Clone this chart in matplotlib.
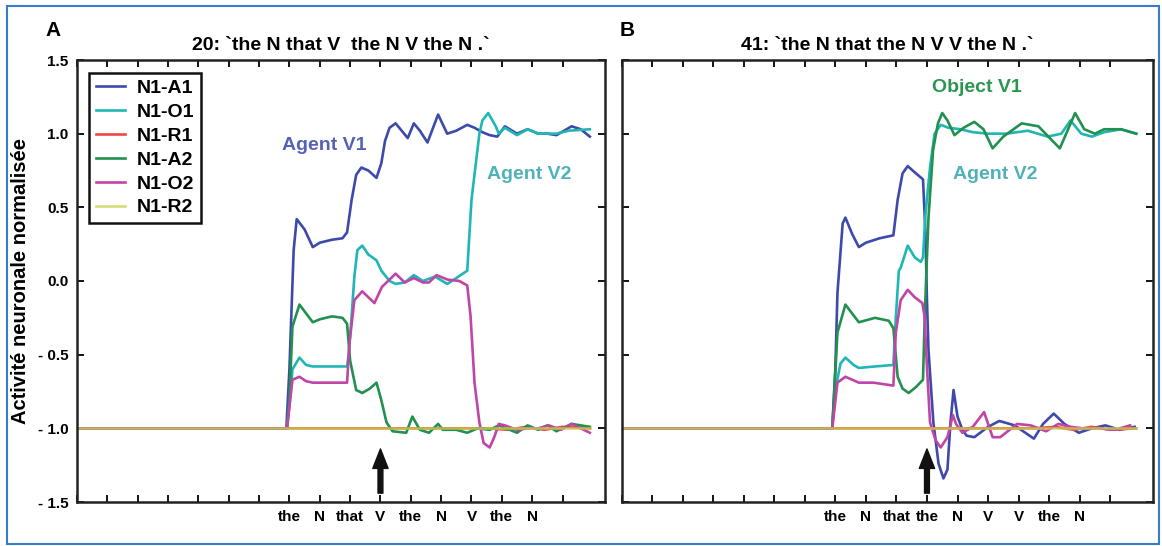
import matplotlib
matplotlib.use("Agg")
import matplotlib.pyplot as plt
from matplotlib.patches import Rectangle

plt.rcParams['font.family'] = ['Liberation Sans', 'DejaVu Sans']
plt.rcParams['font.weight'] = 'bold'

# ---- data (x in word slots, y = normalised activity) ----
series_names = ['N1-A1', 'N1-O1', 'N1-R1', 'N1-A2', 'N1-O2', 'N1-R2']
colors = ['#3d4aab', '#1fb6b4', '#ee4848', '#22904e', '#bf45a6', '#c6d34c']

words_a = ['the', 'N', 'that', 'V', 'the', 'N', 'V', 'the', 'N']
words_b = ['the', 'N', 'that', 'the', 'N', 'V', 'V', 'the', 'N']
word_ticks = [7, 8, 9, 10, 11, 12, 13, 14, 15]

# panel A : 20 `the N that V the N V the N .`
a_A1_x = [0, 6.9, 7.0, 7.14, 7.24, 7.5, 7.77, 8.0, 8.4, 8.75, 8.9, 9.05, 9.2, 9.37, 9.6, 9.87, 10.03,
          10.15, 10.3, 10.5, 10.7, 10.9, 11.1, 11.3, 11.55, 11.9, 12.2, 12.5, 12.86, 13.1, 13.36, 13.6,
          13.85, 14.1, 14.5, 14.85, 15.2, 15.5, 15.8, 16.3, 16.6, 16.9]
a_A1_y = [-1, -1, -0.6, 0.21, 0.42, 0.35, 0.23, 0.26, 0.28, 0.29, 0.33, 0.55, 0.72, 0.77, 0.75, 0.70, 0.80,
          0.95, 1.04, 1.07, 1.02, 0.97, 1.07, 1.02, 0.94, 1.13, 1.0, 1.02, 1.06, 1.04, 1.01, 0.99,
          0.98, 1.05, 1.0, 1.03, 1.0, 1.0, 0.99, 1.05, 1.03, 0.98]
a_O1_x = [0, 6.92, 7.0, 7.1, 7.33, 7.55, 7.77, 8.3, 8.9, 8.95, 9.05, 9.14, 9.24, 9.4, 9.6, 9.87, 10.03,
          10.3, 10.5, 10.8, 11.1, 11.4, 11.8, 12.2, 12.5, 12.86, 13.0, 13.26, 13.36, 13.55, 13.8, 13.9,
          14.1, 14.5, 14.85, 15.2, 15.8, 16.2, 16.9]
a_O1_y = [-1, -1, -0.85, -0.6, -0.52, -0.57, -0.58, -0.58, -0.58, -0.5, -0.24, 0.03, 0.21, 0.24, 0.18,
          0.14, 0.07, 0.0, -0.02, -0.01, 0.04, 0.0, 0.03, -0.02, 0.02, 0.07, 0.55, 1.0, 1.09, 1.14, 1.05,
          1.0, 1.04, 0.99, 1.03, 1.0, 1.0, 1.02, 1.03]
a_R1_x = [0, 13.5, 14.2, 14.8, 15.4, 16.0, 16.9]
a_R1_y = [-1, -1, -1.01, -0.99, -1.01, -0.99, -1.0]
a_A2_x = [0, 6.92, 7.0, 7.1, 7.33, 7.55, 7.77, 8.0, 8.4, 8.75, 8.9, 9.0, 9.2, 9.4, 9.65, 9.87, 10.03,
          10.2, 10.4, 10.85, 11.05, 11.3, 11.6, 11.9, 12.05, 12.5, 12.86, 13.2, 13.6, 13.9, 14.5, 14.85,
          15.2, 15.5, 15.8, 16.3, 16.9]
a_A2_y = [-1, -1, -0.8, -0.31, -0.16, -0.22, -0.28, -0.26, -0.24, -0.25, -0.29, -0.54, -0.74, -0.76,
          -0.73, -0.69, -0.81, -0.96, -1.02, -1.03, -0.92, -1.01, -1.03, -0.97, -1.01, -1.01, -1.03, -1.0,
          -1.01, -0.98, -1.03, -0.98, -1.01, -0.98, -1.02, -0.97, -0.99]
a_O2_x = [0, 6.92, 7.1, 7.33, 7.55, 7.77, 8.3, 8.9, 8.98, 9.14, 9.4, 9.6, 9.8, 10.05, 10.5, 10.8, 11.1,
          11.4, 11.6, 11.85, 12.2, 12.6, 12.86, 12.97, 13.1, 13.26, 13.4, 13.6, 13.75, 13.9, 14.1, 14.5,
          14.85, 15.2, 15.55, 15.95, 16.3, 16.9]
a_O2_y = [-1, -1, -0.67, -0.65, -0.68, -0.69, -0.69, -0.69, -0.42, -0.13, -0.07, -0.11, -0.15, -0.04,
          0.05, -0.01, 0.02, -0.01, -0.01, 0.04, 0.01, 0.0, -0.03, -0.24, -0.69, -0.96, -1.1, -1.13, -1.06,
          -0.97, -0.98, -1.01, -1.0, -1.0, -0.98, -1.01, -0.97, -1.03]
a_R2_x = [0, 16.9]
a_R2_y = [-1, -1]

# panel B : 41 `the N that the N V V the N .`
b_A1_x = [0, 6.9, 7.0, 7.07, 7.24, 7.33, 7.55, 7.77, 8.0, 8.45, 8.9, 9.04, 9.2, 9.37, 9.64, 9.87, 9.95,
          10.0, 10.05, 10.21, 10.38, 10.54, 10.67, 10.77, 10.87, 11.0, 11.16, 11.3, 11.55, 12.0, 12.37,
          12.87, 13.5, 13.8, 14.15, 14.5, 14.97, 15.4, 15.84, 16.3, 16.8]
b_A1_y = [-1, -1, -0.6, -0.08, 0.39, 0.43, 0.32, 0.23, 0.26, 0.29, 0.31, 0.55, 0.73, 0.78, 0.73, 0.69,
          0.33, -0.13, -0.47, -0.96, -1.24, -1.34, -1.28, -0.96, -0.74, -0.92, -1.01, -1.05, -1.06, -0.99,
          -0.95, -0.98, -1.07, -0.97, -0.90, -0.97, -1.03, -1.0, -0.98, -1.01, -0.99]
b_O1_x = [0, 6.9, 7.0, 7.17, 7.33, 7.6, 7.77, 8.3, 8.9, 8.98, 9.08, 9.14, 9.37, 9.6, 9.8, 9.87, 9.95,
          10.1, 10.25, 10.45, 10.7, 11.1, 11.5, 12.0, 12.6, 13.3, 13.95, 14.4, 14.7, 15.05, 15.4, 15.8,
          16.35, 16.85]
b_O1_y = [-1, -1, -0.74, -0.56, -0.52, -0.57, -0.59, -0.58, -0.57, -0.25, 0.07, 0.09, 0.24, 0.16, 0.13,
          0.16, 0.45, 0.77, 1.0, 1.06, 1.04, 1.03, 1.01, 1.0, 1.0, 1.02, 0.98, 1.0, 1.09, 1.0, 0.98, 1.01,
          1.03, 1.0]
b_R1_x = [0, 13.5, 14.2, 14.8, 15.4, 16.0, 16.85]
b_R1_y = [-1, -1, -0.99, -1.01, -0.99, -1.01, -1.0]
b_A2_x = [0, 6.9, 7.07, 7.33, 7.55, 7.77, 8.3, 8.75, 8.9, 9.04, 9.2, 9.4, 9.64, 9.87, 9.92, 9.97, 10.05,
          10.2, 10.36, 10.5, 10.67, 10.9, 11.2, 11.55, 11.85, 12.15, 12.5, 13.1, 13.65, 14.35, 14.85,
          15.15, 15.5, 15.8, 16.35, 16.85]
b_A2_y = [-1, -1, -0.35, -0.16, -0.22, -0.28, -0.25, -0.27, -0.32, -0.65, -0.73, -0.76, -0.72, -0.67,
          -0.3, 0.0, 0.43, 0.89, 1.07, 1.14, 1.09, 0.99, 1.04, 1.08, 1.03, 0.90, 0.98, 1.07, 1.05, 0.90,
          1.14, 1.03, 1.0, 1.03, 1.03, 1.0]
b_O2_x = [0, 6.9, 7.07, 7.33, 7.55, 7.77, 8.25, 8.9, 8.98, 9.14, 9.37, 9.6, 9.85, 9.92, 10.0, 10.1,
          10.28, 10.45, 10.67, 10.85, 10.95, 11.16, 11.5, 11.87, 12.15, 12.4, 12.95, 13.4, 13.9, 14.3,
          14.7, 15.1, 15.6, 16.15, 16.65]
b_O2_y = [-1, -1, -0.69, -0.65, -0.67, -0.69, -0.69, -0.71, -0.35, -0.13, -0.06, -0.11, -0.15, -0.24,
          -0.58, -0.96, -1.08, -1.13, -1.06, -0.91, -0.97, -1.03, -0.99, -0.89, -1.06, -1.06, -0.97, -0.98,
          -1.02, -0.97, -0.99, -1.0, -1.0, -1.01, -0.98]
b_R2_x = [0, 16.85]
b_R2_y = [-1, -1]

panel_a = [(a_A1_x, a_A1_y), (a_O1_x, a_O1_y), (a_R1_x, a_R1_y),
           (a_A2_x, a_A2_y), (a_O2_x, a_O2_y), (a_R2_x, a_R2_y)]
panel_b = [(b_A1_x, b_A1_y), (b_O1_x, b_O1_y), (b_R1_x, b_R1_y),
           (b_A2_x, b_A2_y), (b_O2_x, b_O2_y), (b_R2_x, b_R2_y)]

W, H = 1162, 546
fig = plt.figure(figsize=(W / 100, H / 100), dpi=100)
fig.patches.append(Rectangle((7 / W, 2 / H), 1152 / W, 538 / H, transform=fig.transFigure,
                             fill=False, edgecolor='#3a7ccc', linewidth=1.5))

axA = fig.add_axes([77 / W, 44 / H, 528 / W, 442 / H])
axB = fig.add_axes([621.5 / W, 44 / H, 531.5 / W, 442 / H])

for ax, data, words, title in [
        (axA, panel_a, words_a, "20: `the N that V  the N V the N .`"),
        (axB, panel_b, words_b, "41: `the N that the N V V the N .`")]:
    for (x, y), name, c in zip(data, series_names, colors):
        alpha = 0.75 if name == 'N1-R2' else 1.0
        ax.plot(x, y, color=c, lw=1.9, label=name, alpha=alpha, solid_joinstyle='round')
    ax.set_xlim(0, 17.4)
    ax.set_ylim(-1.5, 1.5)
    ax.set_xticks(range(0, 17))
    ax.set_xticklabels(['' if i not in word_ticks else words[word_ticks.index(i)] for i in range(17)],
                       fontsize=11, fontweight='bold')
    ax.set_yticks([1.5, 1.0, 0.5, 0.0, -0.5, -1.0, -1.5])
    ax.tick_params(direction='in', length=5, width=1.3, top=True, right=True, pad=6)
    for s in ax.spines.values():
        s.set_linewidth(1.8)
        s.set_color('#222222')
    ax.set_title(title, fontsize=14, fontweight='bold', pad=7)
    ax.annotate('', xy=(10, -1.14), xytext=(10, -1.44),
                arrowprops=dict(width=3.5, headwidth=11, headlength=14, color='#111111'))

axA.set_yticklabels(['1.5', '1.0', '0.5', '0.0', '- 0.5', '- 1.0', '- 1.5'], fontsize=11, fontweight='bold')
axB.set_yticklabels([])
axA.set_ylabel('Activité neuronale normalisée', fontsize=14.5, fontweight='bold', labelpad=6)

fig.text(45 / W, 1 - 30 / H, 'A', fontsize=15, fontweight='bold', va='center', ha='left')
fig.text(620 / W, 1 - 30 / H, 'B', fontsize=15, fontweight='bold', va='center', ha='left')

axA.text(6.74, 0.92, 'Agent V1', color='#5563b5', fontsize=14, fontweight='bold', va='center')
axA.text(13.52, 0.72, 'Agent V2', color='#4fb2b8', fontsize=14, fontweight='bold', va='center')
axB.text(10.15, 1.31, 'Object V1', color='#2a9650', fontsize=14, fontweight='bold', va='center')
axB.text(10.84, 0.72, 'Agent V2', color='#4fb2b8', fontsize=14, fontweight='bold', va='center')

leg = axA.legend(loc='upper left', bbox_to_anchor=(0.004, 0.993), fontsize=14, handlelength=1.5,
                 labelspacing=0.32, borderpad=0.35, handletextpad=0.6, fancybox=False, framealpha=1)
leg.get_frame().set_edgecolor('#111111')
leg.get_frame().set_linewidth(1.8)

fig.savefig('out.png', dpi=100)
